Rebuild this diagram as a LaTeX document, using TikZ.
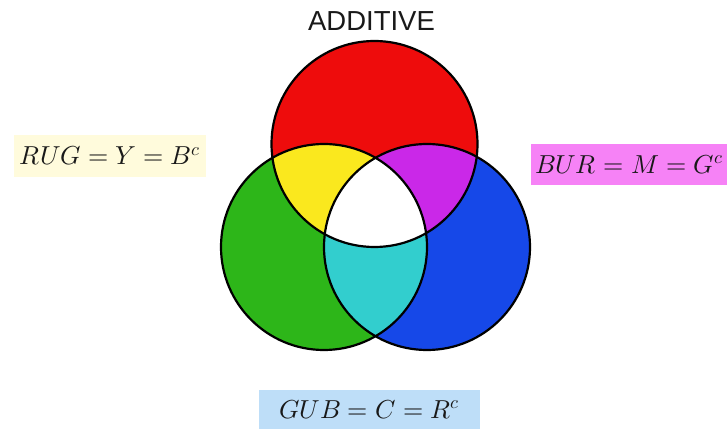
\documentclass[tikz,border=0pt]{standalone}
\usepackage{fontspec}
\usepackage{unicode-math}
\setsansfont{Liberation Sans}
\setmathfont{Latin Modern Math}
\usetikzlibrary{positioning}
\definecolor{addred}{RGB}{238,12,12}
\definecolor{addgreen}{RGB}{45,182,25}
\definecolor{addblue}{RGB}{22,72,232}
\definecolor{addyellow}{RGB}{250,232,30}
\definecolor{addmagenta}{RGB}{202,40,232}
\definecolor{addcyan}{RGB}{50,206,206}
\definecolor{boxyellow}{RGB}{255,251,220}
\definecolor{boxmagenta}{RGB}{246,130,246}
\definecolor{boxblue}{RGB}{190,222,248}

\begin{document}
\begin{tikzpicture}[x=1pt, y=-1pt,
    disc/.style={line width=2.2pt, draw=black},
    eqbox/.style={inner sep=0pt, align=center, text=black!90, font=\fontsize{26}{30}\selectfont}
  ]
  \useasboundingbox (0,0) rectangle (728,430);
  \coordinate (red) at (374.5,144);
  \coordinate (green) at (324,247);
  \coordinate (blue) at (427,247);

  % primaries
  \fill[addred] (red) circle[radius=103pt];
  \fill[addgreen] (green) circle[radius=103pt];
  \fill[addblue] (blue) circle[radius=103pt];
  % pairwise overlaps
  \begin{scope}
    \clip (red) circle[radius=103pt];
    \fill[addyellow] (green) circle[radius=103pt];
    \fill[addmagenta] (blue) circle[radius=103pt];
  \end{scope}
  \begin{scope}
    \clip (green) circle[radius=103pt];
    \fill[addcyan] (blue) circle[radius=103pt];
    \clip (red) circle[radius=103pt];
    \fill[white] (blue) circle[radius=103pt];
  \end{scope}
  % outlines
  \draw[disc] (red) circle[radius=103pt];
  \draw[disc] (green) circle[radius=103pt];
  \draw[disc] (blue) circle[radius=103pt];

  \node[font=\fontsize{27.5}{30}\selectfont\sffamily, text=black!90] (title) at (371.5,21.5) {ADDITIVE};

  \node[eqbox, fill=boxyellow, minimum width=192pt, minimum height=42pt] (rug) at (110,156) {$RUG = Y = B^c$};
  \node[eqbox, fill=boxmagenta, minimum width=196pt, minimum height=41pt] (bur) at (629,164.5) {$BUR = M = G^c$};
  \node[eqbox, fill=boxblue, minimum width=221pt, minimum height=39pt] (gub) at (369.5,409.5) {$GUB = C = R^c$};
\end{tikzpicture}
\end{document}
